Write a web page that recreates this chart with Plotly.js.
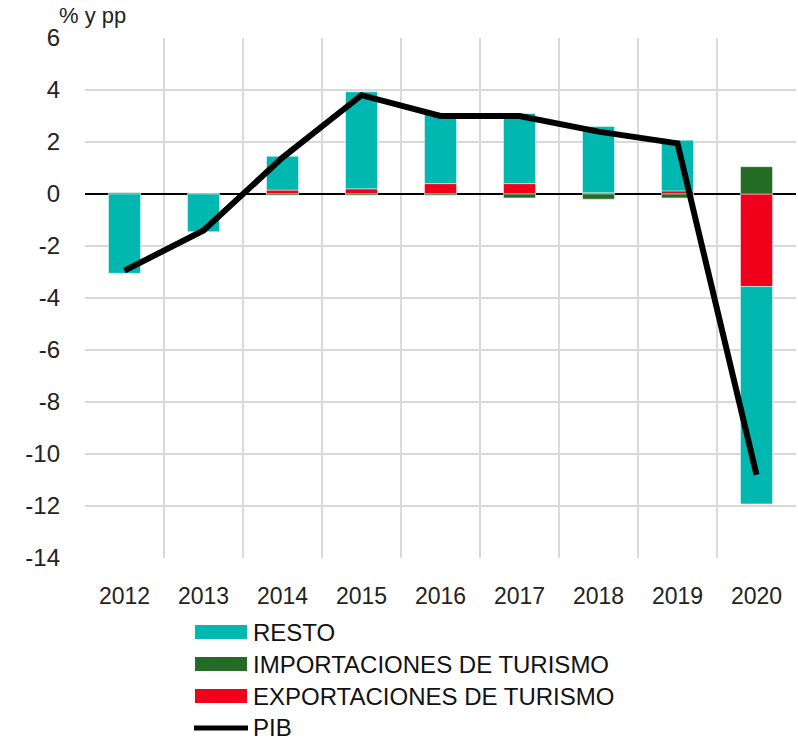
<!DOCTYPE html>
<html>
<head>
<meta charset="utf-8">
<script src="https://cdn.plot.ly/plotly-3.0.1.min.js"></script>
<style>html,body{margin:0;padding:0;background:#fff;}#chart{width:798px;height:741px;}</style>
</head>
<body>
<div id="chart"></div>
<script>
const years = ['2012','2013','2014','2015','2016','2017','2018','2019','2020'];
const resto = [-3.05, -1.45, 1.3, 3.73, 2.7, 2.7, 2.55, 1.95, -8.36];
const importaciones = [0.05, 0.0, -0.05, -0.05, -0.05, -0.15, -0.2, -0.15, 1.05];
const exportaciones = [0.0, 0.0, 0.15, 0.2, 0.4, 0.4, 0.05, 0.12, -3.56];
const pib = [-2.95, -1.4, 1.4, 3.8, 3.0, 3.0, 2.4, 1.95, -10.8];
const yTicks = [6, 4, 2, 0, -2, -4, -6, -8, -10, -12, -14];
const seriesNames = ['RESTO', 'IMPORTACIONES DE TURISMO', 'EXPORTACIONES DE TURISMO', 'PIB'];
const seriesColors = ['#00b8b0', '#246b25', '#f0001a', '#000000'];

const fontFam = '"Liberation Sans", Arial, Helvetica, sans-serif';
const barLine = {color: 'rgba(255,255,255,0.6)', width: 0.8};

const traces = [
  {type: 'bar', name: seriesNames[2], x: years, y: exportaciones,
   marker: {color: seriesColors[2], line: barLine}},
  {type: 'bar', name: seriesNames[1], x: years, y: importaciones,
   marker: {color: seriesColors[1], line: barLine}},
  {type: 'bar', name: seriesNames[0], x: years, y: resto,
   marker: {color: seriesColors[0], line: barLine}},
  {type: 'scatter', mode: 'lines', name: seriesNames[3], x: years, y: pib,
   line: {color: seriesColors[3], width: 6}}
];

// plot area in pixels: x 85..796, y 38..558
const L = 85, R = 796, T = 38, B = 558;
const px = v => (v - L) / (R - L);
const py = v => (B - v) / (B - T);

const rowY = [632, 664, 696, 727];
const shapes = [];
const annotations = [];
seriesNames.forEach((n, i) => {
  if (i < 3) {
    shapes.push({type: 'rect', xref: 'paper', yref: 'paper', x0: px(195), x1: px(247),
      y0: py(rowY[i] - 7), y1: py(rowY[i] + 7), fillcolor: seriesColors[i], line: {width: 0}});
  } else {
    shapes.push({type: 'line', xref: 'paper', yref: 'paper', x0: px(194), x1: px(248),
      y0: py(rowY[i] + 1), y1: py(rowY[i] + 1), line: {color: seriesColors[i], width: 5}});
  }
  annotations.push({text: n, xref: 'paper', yref: 'paper', x: px(252), y: py(rowY[i]),
    xanchor: 'left', yanchor: 'middle', showarrow: false, borderpad: 0,
    font: {size: 24, color: '#111'}});
});
annotations.push({text: '% y pp', xref: 'paper', yref: 'paper', x: px(57), y: py(30),
  xanchor: 'left', yanchor: 'bottom', showarrow: false, font: {size: 22, color: '#222'}});

const layout = {
  width: 798, height: 741,
  margin: {l: L, r: 798 - R, t: T, b: 741 - B},
  paper_bgcolor: '#fff', plot_bgcolor: '#fff',
  barmode: 'relative', bargap: 0.595,
  font: {family: fontFam, color: '#222', size: 20},
  showlegend: false,
  xaxis: {type: 'category', tickson: 'boundaries', showgrid: true, gridcolor: '#d9d9d9', gridwidth: 1.5,
    ticks: '', tickfont: {size: 23, color: '#222'}, ticklabelstandoff: 22, zeroline: false,
    showline: false},
  yaxis: {range: [-14, 6], tickvals: yTicks, ticktext: yTicks.map(String),
    showgrid: true, gridcolor: '#d9d9d9', gridwidth: 1.5,
    zeroline: true, zerolinecolor: '#000', zerolinewidth: 2,
    ticks: '', tickfont: {size: 24, color: '#222'}, ticklabelstandoff: 24, showline: false},
  shapes: shapes,
  annotations: annotations
};

Plotly.newPlot('chart', traces, layout, {displayModeBar: false, staticPlot: true});
</script>
</body>
</html>
